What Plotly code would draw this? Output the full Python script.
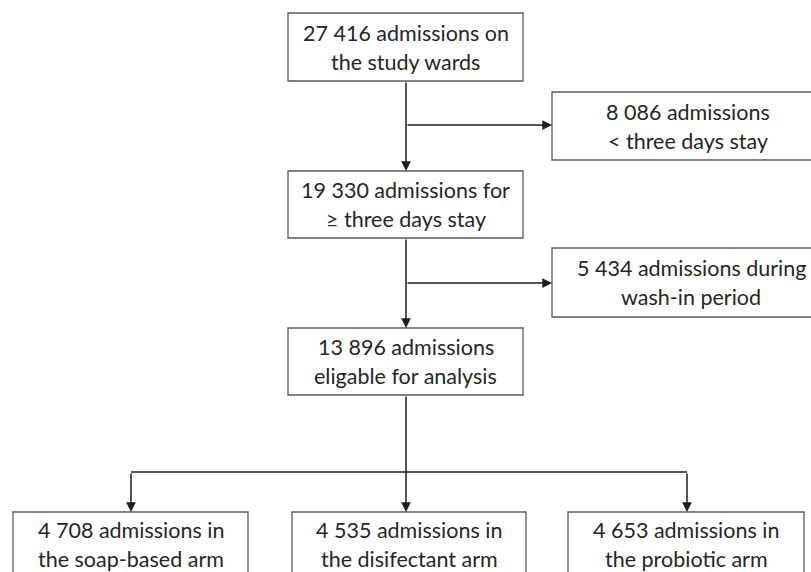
import plotly.graph_objects as go

# ---- data (flow counts and labels) ----
counts = ["27 416", "8 086", "19 330", "5 434", "13 896", "4 708", "4 535", "4 653"]
line1 = ["27 416 admissions on", "8 086 admissions", "19 330 admissions for",
         "5 434 admissions during", "13 896 admissions",
         "4 708 admissions in", "4 535 admissions in", "4 653 admissions in"]
line2 = ["the study wards", "< three days stay", "≥ three days stay",
         "wash-in period", "eligable for analysis",
         "the soap-based arm", "the disifectant arm", "the probiotic arm"]

# ---- layout of boxes (pixel canvas, y down) ----
boxes = [  # x0, x1, y0, y1
    (288, 523, 13, 81),
    (552, 825, 92, 160),
    (288, 523, 171, 238),
    (552, 825, 248, 317),
    (288, 523, 328, 395),
    (13, 248, 512, 580),
    (292, 526, 512, 580),
    (568, 804, 512, 580),
]
text_cx = [405.5, 688, 405.5, 691, 405.5, 130.5, 409, 686]
text_dy = [0, 0, 0, 0, 0, -2, -2, -2]

W, H = 811, 572
fig = go.Figure()
fig.add_trace(go.Scatter(x=[0, W], y=[0, H], mode="markers",
                         marker=dict(opacity=0), hoverinfo="skip", showlegend=False))

box_col = "#5a5a5a"
line_col = "#1e1e1e"
txt_col = "#262626"
fnt = dict(family="Lato, Open Sans, sans-serif", size=21.5, color=txt_col)

for i, (x0, x1, y0, y1) in enumerate(boxes):
    fig.add_shape(type="rect", x0=x0, x1=x1, y0=y0, y1=y1,
                  line=dict(color=box_col, width=1.3), fillcolor="white", layer="above")
    cy = (y0 + y1) / 2 + text_dy[i]
    fig.add_annotation(x=text_cx[i], y=cy - 14.5, text=line1[i], showarrow=False,
                       font=fnt, xanchor="center", yanchor="middle")
    fig.add_annotation(x=text_cx[i], y=cy + 14.5, text=line2[i], showarrow=False,
                       font=fnt, xanchor="center", yanchor="middle")

cx = 406
arrows = [  # tail (ax, ay) -> tip (x, y)
    (cx, 81, cx, 171),
    (cx, 125, 552, 125),
    (cx, 238, cx, 328),
    (cx, 283, 552, 283),
    (cx, 395, cx, 512),
    (131, 472, 131, 512),
    (687, 472, 687, 512),
]
for ax, ay, x, y in arrows:
    fig.add_annotation(x=x, y=y, ax=ax, ay=ay, xref="x", yref="y", axref="x", ayref="y",
                       text="", showarrow=True, arrowhead=2, arrowsize=1.3,
                       arrowwidth=1.5, arrowcolor=line_col, standoff=0)

fig.add_shape(type="line", x0=131, x1=687, y0=472, y1=472,
              line=dict(color=line_col, width=1.5))

fig.update_xaxes(range=[0, W], visible=False, fixedrange=True)
fig.update_yaxes(range=[H, 0], visible=False, fixedrange=True)
fig.update_layout(width=W, height=H, margin=dict(l=0, r=0, t=0, b=0),
                  plot_bgcolor="white", paper_bgcolor="white", showlegend=False)

fig.write_html("out.html", config={"displayModeBar": False},
               post_script="document.body.style.margin='0';document.body.style.overflow='hidden';")
